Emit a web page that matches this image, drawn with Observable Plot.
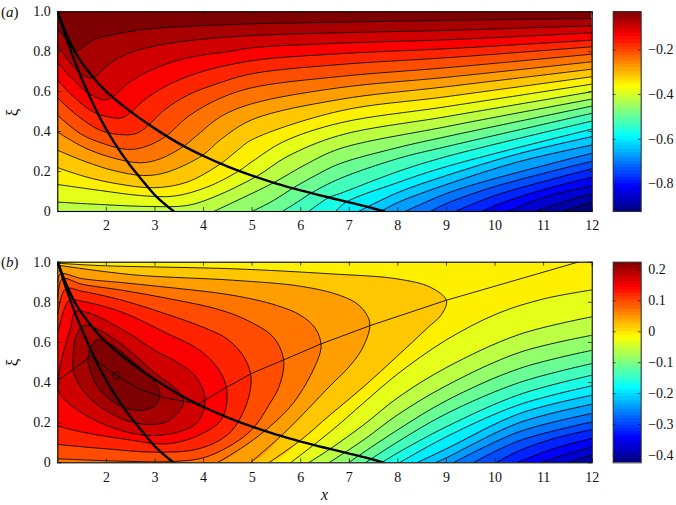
<!DOCTYPE html>
<html><head><meta charset="utf-8">
<script src="https://cdn.jsdelivr.net/npm/d3@7"></script>
<script src="https://cdn.jsdelivr.net/npm/@observablehq/plot@0.6"></script>
<style>
html,body{margin:0;padding:0;background:#fff}
#fig{position:relative;width:676px;height:505px;font-family:"Liberation Serif",serif;color:#111}
#fig svg{position:absolute;left:0;overflow:visible;background:transparent}
.t{position:absolute;font-size:15px;line-height:1;white-space:nowrap}
</style></head><body><div id="fig"></div>
<script>
const xTicks=[2,3,4,5,6,7,8,9,10,11,12];
const xiTicks=[0,0.2,0.4,0.6,0.8,1];
const barTicksA=[-0.8,-0.6,-0.4,-0.2];
const barTicksB=[-0.4,-0.3,-0.2,-0.1,0,0.1,0.2];
const domainA=[-0.923,-0.03];
const domainB=[-0.4236,0.2246];
const jetStops=["#00007f","#0000ff","#007fff","#00ffff","#7fff7f","#ffff00","#ff7f00","#ff0000","#7f0000"];

const levelsA=[-.030,-.066,-.101,-.137,-.173,-.209,-.244,-.280,-.316,-.351,-.387,-.423,-.459,-.494,-.530,-.566,-.602,-.637,-.673,-.709,-.744,-.780,-.816,-.852,-.887,-.923];
const levelsB=[.225,.199,.173,.147,.121,.095,.069,.043,.017,-.009,-.035,-.061,-.087,-.113,-.139,-.165,-.191,-.217,-.243,-.269,-.295,-.320,-.346,-.372,-.398];

const thickUpper=[[1,1],[1.2,.875],[1.4,.78],[1.7,.68],[2,.6],[2.5,.5],[3,.415],[3.5,.34],[4,.278],[4.5,.225],[5,.18],[5.5,.14],[6,.106],[6.5,.075],[7,.046],[7.4,.022],[7.72,0]];
const thickLower=[[1,1],[1.19,.857],[1.4,.72],[1.64,.585],[1.88,.464],[2.15,.35],[2.46,.24],[2.77,.147],[3.04,.072],[3.39,0]];

// panel (a): contour lines, each read as [x, xi]
const contoursA=[
[[1,.915],[1.16,.865],[1.36,.806],[1.74,.86],[2.22,.89],[2.9,.915],[3.94,.93],[5,.94],[6.8,.948],[9,.957],[12,.967]],
[[1,.828],[1.19,.765],[1.4,.706],[1.64,.669],[1.775,.676],[2.02,.731],[2.43,.79],[3.04,.831],[3.94,.862],[5,.881],[6.8,.895],[9,.907],[12,.93]],
[[1,.743],[1.33,.656],[1.6,.598],[1.95,.559],[2.12,.573],[2.43,.639],[2.9,.706],[3.59,.765],[4.62,.805],[5,.82],[6.8,.843],[9,.86],[12,.895]],
[[1,.656],[1.33,.573],[1.74,.497],[2.08,.472],[2.32,.469],[2.5,.497],[2.77,.556],[3.25,.631],[3.94,.698],[5,.755],[6.8,.79],[9,.815],[12,.858]],
[[1,.568],[1.4,.481],[1.88,.406],[2.36,.384],[2.63,.392],[2.84,.426],[3.18,.506],[3.66,.581],[4.28,.64],[5,.69],[6.8,.736],[9,.77],[12,.825]],
[[1,.481],[1.47,.389],[1.95,.339],[2.43,.311],[2.77,.322],[3.22,.376],[3.66,.472],[4.28,.56],[5,.62],[6.8,.676],[9,.72],[12,.788]],
[[1,.397],[1.53,.322],[2.08,.272],[2.7,.244],[3.11,.264],[3.59,.327],[3.94,.397],[4.35,.475],[5,.54],[6.8,.62],[9,.672],[12,.75]],
[[1,.306],[1.6,.247],[2.15,.205],[2.77,.18],[3.25,.197],[3.97,.28],[4.35,.36],[5,.46],[6.8,.561],[9,.625],[12,.713]],
[[1,.219],[1.6,.172],[2.22,.139],[2.98,.119],[3.66,.147],[4.35,.239],[4.69,.305],[5,.36],[6.8,.503],[9,.575],[12,.675]],
[[1,.135],[1.88,.105],[2.7,.08],[3.39,.077],[4.07,.122],[4.72,.202],[5,.25],[5.65,.35],[6.8,.443],[9,.525],[12,.638]],
[[1,.047],[1.88,.035],[2.9,.025],[3.66,.03],[4.21,.072],[5.1,.177],[5.72,.275],[6.8,.381],[9,.475],[12,.6]],
[[4.21,0],[4.62,.047],[5.44,.144],[6.1,.235],[6.8,.314],[9,.425],[12,.563]],
[[5,0],[5.44,.055],[5.82,.114],[6.3,.18],[6.8,.239],[8,.32],[9,.375],[12,.528]],
[[5.62,0],[5.95,.05],[6.2,.09],[6.8,.164],[8,.265],[9,.325],[12,.492]],
[[6.16,0],[6.58,.07],[6.8,.089],[8,.2],[9,.275],[12,.453]],
[[6.72,0],[6.92,.045],[8,.145],[9,.225],[12,.413]],
[[7.19,0],[8,.095],[9,.18],[10.5,.29],[12,.375]],
[[7.65,0],[8,.045],[9,.135],[10.5,.25],[12,.333]],
[[8.15,0],[9,.09],[10,.165],[12,.292]],
[[8.67,0],[9,.04],[10,.125],[12,.252]],
[[9.18,0],[10,.08],[11,.15],[12,.214]],
[[9.73,0],[10,.03],[11,.11],[12,.172]],
[[10.27,0],[11,.07],[12,.13]],
[[10.83,0],[11.5,.055],[12,.088]],
[[11.4,0],[12,.047]]
];

// panel (b): closed contours around the peak, innermost first
const loopsB=[
[[1.62,.502],[1.66,.568],[1.81,.613],[2.08,.593],[2.56,.502],[2.91,.427],[3.1,.352],[3.01,.286],[2.63,.261],[2.15,.302],[1.78,.394],[1.62,.502]],
[[1.31,.51],[1.36,.618],[1.53,.684],[1.88,.659],[2.43,.568],[2.98,.452],[3.46,.36],[3.59,.302],[3.3,.212],[2.87,.191],[2.32,.219],[1.64,.327],[1.33,.444],[1.31,.51]],
[[1,.37],[1.05,.487],[1.26,.67],[1.36,.752],[1.6,.75],[2.33,.665],[3,.56],[3.39,.51],[3.8,.44],[4.02,.34],[4,.26],[3.82,.19],[3.5,.155],[3.2,.14],[2.8,.137],[2.32,.16],[1.64,.228],[1.09,.327],[1,.37]],
[[1,.643],[1.23,.809],[1.5,.805],[2.33,.75],[3.25,.645],[3.9,.565],[4.3,.47],[4.48,.36],[4.38,.22],[3.97,.145],[3.28,.095],[2.32,.12],[1.5,.153],[1,.183]],
[[1,.743],[1.16,.867],[1.5,.855],[2.33,.81],[3.25,.74],[4,.675],[4.5,.615],[4.85,.52],[4.98,.42],[4.86,.277],[4.52,.145],[3.9,.07],[3.01,.053],[1.98,.07],[1,.091]],
[[1,.826],[1.09,.917],[1.5,.89],[2.33,.86],[3.25,.82],[4.3,.765],[4.9,.71],[5.44,.625],[5.65,.51],[5.55,.377],[5.34,.286],[5.07,.186],[4.72,.111],[4.04,.028],[3.42,.007],[2.32,.008],[1,.02]],
[[1,.9],[1.05,.942],[1.5,.918],[2.33,.898],[3.25,.875],[4.6,.835],[5.5,.785],[6,.735],[6.3,.67],[6.42,.585],[6.3,.485],[5.86,.302],[5.31,.169],[4.76,.07],[4.28,0]],
[[1,.985],[2.56,.937],[4.62,.91],[6,.88],[6.8,.835],[7.2,.785],[7.42,.7],[7.3,.585],[7.02,.485],[6.61,.385],[5.68,.153],[4.96,0]],
[[1,.995],[1.88,.983],[4.62,.967],[6.61,.942],[7.98,.917],[8.67,.875],[9,.809],[8.9,.74],[8.6,.67],[7.98,.53],[7.3,.38],[6.61,.24],[5.99,.111],[5.34,0]]
];
// panel (b): open contours from the bottom edge to the right edge
const linesB=[
[[5.79,0],[6.61,.155],[7.3,.3],[7.98,.44],[8.98,.61],[10.04,.743],[11,.817],[12,.862]],
[[6.16,0],[6.61,.07],[7.3,.19],[8,.325],[9,.475],[10.5,.64],[12,.728]],
[[6.58,0],[7.3,.115],[8,.24],[9,.385],[10.5,.55],[12,.636]],
[[6.98,0],[8,.165],[9,.31],[10.5,.47],[12,.561]],
[[7.33,0],[8,.105],[9,.245],[10.5,.4],[12,.495]],
[[7.66,0],[8,.05],[9,.18],[10.5,.34],[12,.437]],
[[8.03,0],[9,.13],[10.5,.29],[12,.384]],
[[8.39,0],[9,.07],[10.5,.245],[12,.337]],
[[8.77,0],[9,.025],[10.5,.2],[12,.292]],
[[9.14,0],[10.5,.155],[12,.246]],
[[9.55,0],[10.5,.11],[12,.204]],
[[10.02,0],[10.5,.06],[11.2,.12],[12,.166]],
[[10.45,0],[11.2,.07],[12,.121]],
[[10.95,0],[11.5,.045],[12,.08]],
[[11.5,0],[12,.04]]
];
const ridgeB=[[1,.41],[1.57,.51],[1.67,.535],[2.21,.435],[2.67,.369],[3.15,.327],[3.59,.307],[3.9,.294],[4.48,.377],[5,.447],[5.62,.51],[6.42,.593],[7.43,.684],[8.98,.809],[11.7,1]];
const centreB=[[2.21,.435]];

const jet=d3.piecewise(d3.interpolateRgb,jetStops);
const rows=(pts,band,level)=>pts.map(([x,xi])=>({x,xi,band,level}));
const fig=document.getElementById("fig");
const fmtXi=d=>d===0?"0":d.toFixed(1);
const fmtBar=d=>d===0?"0":(d<0?"\u2212":"")+Math.abs(d).toFixed(1);
const smooth="catmull-rom";
const style={fontFamily:'"Liberation Serif",serif',fontSize:"14px",background:"transparent",color:"#111"};

function axes(){return [
  Plot.ruleX(xTicks,{x:d=>d,y1:()=>0,y2:()=>.02,stroke:"#222",strokeWidth:.8}),
  Plot.ruleX(xTicks,{x:d=>d,y1:()=>.98,y2:()=>1,stroke:"#222",strokeWidth:.8}),
  Plot.ruleY(xiTicks,{y:d=>d,x1:()=>1,x2:()=>1.08,stroke:"#222",strokeWidth:.8}),
  Plot.ruleY(xiTicks,{y:d=>d,x1:()=>11.92,x2:()=>12,stroke:"#222",strokeWidth:.8}),
  Plot.axisX(xTicks,{anchor:"bottom",tickSize:0,tickPadding:9,tickFormat:d=>d,label:null,fontSize:14}),
  Plot.axisY(xiTicks,{anchor:"left",tickSize:0,tickPadding:7,tickFormat:fmtXi,label:null,fontSize:14}),
  Plot.frame({stroke:"#000",strokeWidth:1.1})
];}
const thick=()=>[thickUpper,thickLower].map(c=>Plot.line(c,{x:"0",y:"1",stroke:"#000",strokeWidth:2.4,curve:smooth,clip:true}));
function panel(marks,top,mt,innerH,mb,domain){
  const p=Plot.plot({width:676,height:mt+innerH+mb,marginLeft:57.3,marginRight:84.3,marginTop:mt,marginBottom:mb,style,
    x:{domain:[1,12],label:null},y:{domain:[0,1],label:null},
    color:{type:"linear",domain,interpolate:jet},
    marks:[...marks,...axes()]});
  p.style.top=top+"px";fig.appendChild(p);
}
function colorbar(top,mt,innerH,mb,domain,ticks){
  const n=64,cells=d3.range(n).map(i=>{const a=domain[0]+(domain[1]-domain[0])*i/n,b=domain[0]+(domain[1]-domain[0])*(i+1)/n;return {y1:a,y2:b,v:(a+b)/2};});
  const p=Plot.plot({width:676,height:mt+innerH+mb,marginLeft:612.7,marginRight:35.3,marginTop:mt,marginBottom:mb,style,
    x:{domain:[0,1],axis:null},y:{domain,label:null},
    color:{type:"linear",domain,interpolate:jet},
    marks:[
      Plot.rect(cells,{x1:()=>0,x2:()=>1,y1:"y1",y2:"y2",fill:"v",shapeRendering:"crispEdges"}),
      Plot.ruleY(ticks,{y:d=>d,x1:()=>0,x2:()=>.1,stroke:"#222",strokeWidth:.8}),
      Plot.ruleY(ticks,{y:d=>d,x1:()=>.9,x2:()=>1,stroke:"#222",strokeWidth:.8}),
      Plot.axisY(ticks,{anchor:"right",tickSize:0,tickPadding:7,tickFormat:fmtBar,label:null,fontSize:14}),
      Plot.frame({stroke:"#333",strokeWidth:1.1})
    ]});
  p.style.top=top+"px";fig.appendChild(p);
}

// panel (a) bands painted back to front
const bandsA=[rows([[1,1],[12,1]],0,levelsA[0]),...contoursA.map((c,i)=>rows(c,i+1,levelsA[i+1]))].flat();
const linesOfA=contoursA.flatMap((c,i)=>rows(c,i+1,levelsA[i+1]));
panel([
  Plot.areaY(bandsA,{x:"x",y1:()=>0,y2:"xi",z:"band",fill:"level",curve:smooth,clip:true}),
  Plot.line(linesOfA,{x:"x",y:"xi",z:"band",stroke:"#000",strokeWidth:.85,curve:smooth,clip:true}),
  ...thick()
],0,11.3,199.7,26,domainA);
colorbar(0,11.3,199.7,26,domainA,barTicksA);

// panel (b): outer bands painted towards the low corner, then the loops towards the peak
const areaB=[rows([[1,1],[12,1]],9,levelsB[9]),...linesB.map((c,j)=>rows(c,10+j,levelsB[10+j]))].flat();
const closed=c=>c[c.length-1][1]===0?[...c,[1,0]]:c;
const loopFill=loopsB.slice().reverse().flatMap((c)=>{const j=loopsB.indexOf(c);return rows(closed(c),j,levelsB[j]);});
panel([
  Plot.areaY(areaB,{x:"x",y1:()=>0,y2:"xi",z:"band",fill:"level",curve:smooth,clip:true}),
  Plot.line(loopFill,{x:"x",y:"xi",z:"band",fill:"level",stroke:"none",curve:smooth,clip:true}),
  Plot.line(loopsB.flatMap((c,j)=>rows(c,j,levelsB[j])),{x:"x",y:"xi",z:"band",stroke:"#000",strokeWidth:.85,curve:smooth,clip:true}),
  Plot.line(linesB.flatMap((c,j)=>rows(c,j,levelsB[j])),{x:"x",y:"xi",z:"band",stroke:"#000",strokeWidth:.85,curve:smooth,clip:true}),
  Plot.line(ridgeB,{x:"0",y:"1",stroke:"#000",strokeWidth:.85,clip:true}),
  Plot.dot(centreB,{x:"0",y:"1",r:3.6,stroke:"#000",strokeWidth:.85,fill:"none"}),
  ...thick()
],250,11.7,200.6,42.7,domainB);
colorbar(250,11.7,200.6,42.7,domainB,barTicksB);

function label(html,left,top,extra){const d=document.createElement("div");d.className="t";d.innerHTML=html;d.style.left=left+"px";d.style.top=top+"px";if(extra)Object.assign(d.style,extra);fig.appendChild(d);}
label("(<i>a</i>)",1,5);
label("(<i>b</i>)",1,255);
label("\u03be",9,104,{fontSize:"17px",transform:"rotate(-90deg)"});
label("\u03be",9,354,{fontSize:"17px",transform:"rotate(-90deg)"});
label("x",321,487,{fontStyle:"italic",fontSize:"16px"});
</script></body></html>
